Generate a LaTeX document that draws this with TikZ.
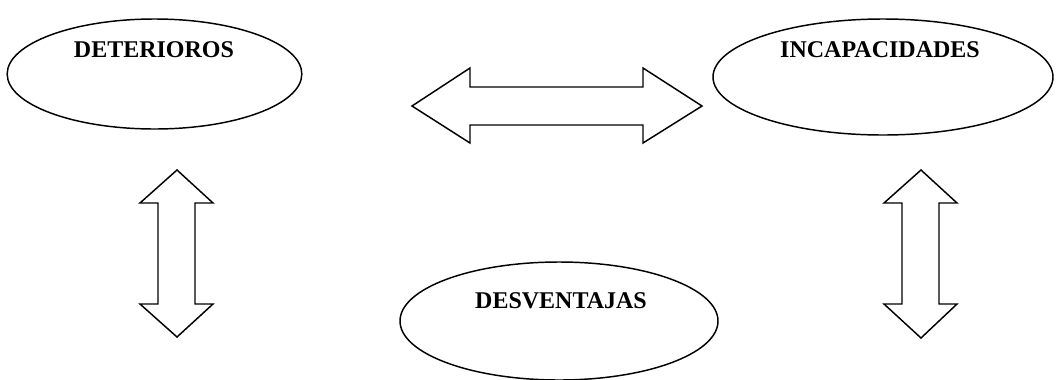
\documentclass[tikz,border=0pt]{standalone}
\usepackage{fontspec}
\setmainfont{Liberation Serif}
\usetikzlibrary{shapes.geometric}

\tikzset{
  oval/.style={draw,ellipse,line width=1.1pt,inner sep=0pt},
  rotulo/.style={font=\bfseries\fontsize{18}{20}\selectfont,inner sep=0pt},
  flecha/.style={draw,line width=1.1pt,line join=miter},
}

\begin{document}
\begin{tikzpicture}[x=0.75pt,y=-0.75pt]
        \useasboundingbox (0,0) rectangle (1057,379);

        % ovals
        \node[oval,minimum width=221pt,minimum height=82.5pt] (det) at (154.5,74) {};
        \node[oval,minimum width=255pt,minimum height=87pt] (inc) at (883,77) {};
        \node[oval,minimum width=238.5pt,minimum height=88.5pt] (des) at (559,321) {};

        \node[rotulo] (tdet) at (154,49.5) {DETERIOROS};
        \node[rotulo] (tinc) at (880,50) {INCAPACIDADES};
        \node[rotulo] (tdes) at (561,301) {DESVENTAJAS};

        % double arrows
        \draw[flecha] (412,106) -- (470,68) -- (470,87) -- (643,87) -- (643,68)
                -- (702,106) -- (643,143) -- (643,125) -- (470,125) -- (470,143) -- cycle;

        \draw[flecha] (177,170) -- (213,203) -- (195,203) -- (195,304) -- (213,304)
                -- (177,337) -- (140,304) -- (158,304) -- (158,203) -- (140,203) -- cycle;

        \draw[flecha] (921,170) -- (957,203) -- (939,203) -- (939,304) -- (957,304)
                -- (921,338) -- (884,304) -- (902,304) -- (902,203) -- (884,203) -- cycle;
\end{tikzpicture}
\end{document}
